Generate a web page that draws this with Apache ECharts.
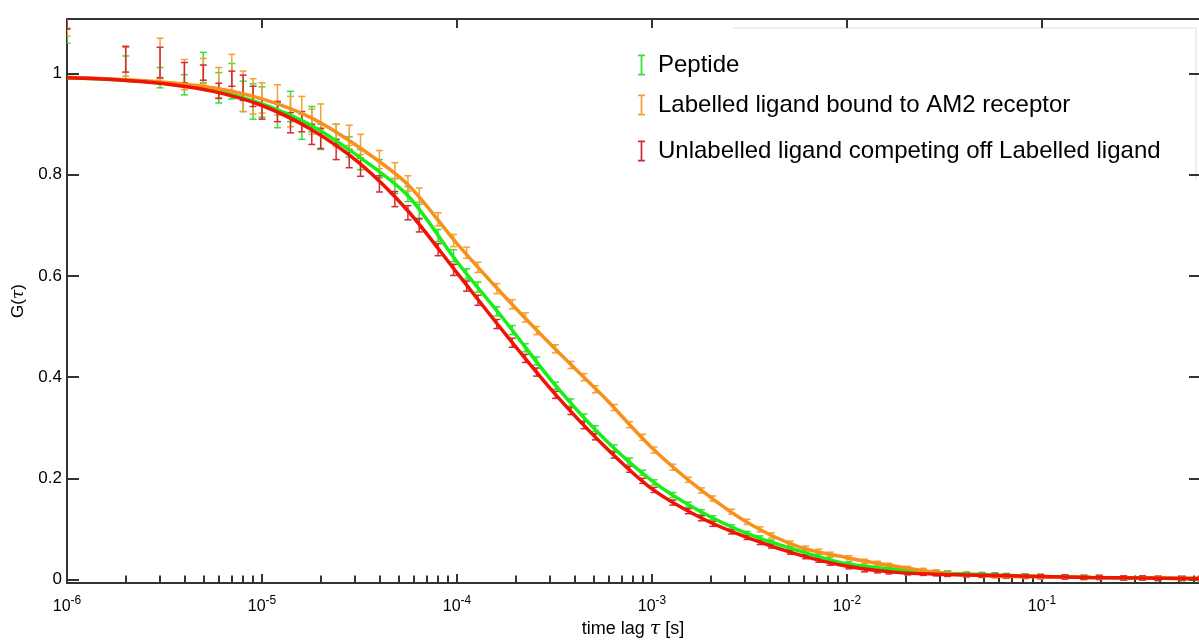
<!DOCTYPE html>
<html>
<head>
<meta charset="utf-8">
<title>FCS autocorrelation</title>
<script src="https://cdn.jsdelivr.net/npm/echarts@6/dist/echarts.min.js"></script>
<style>
  html, body { margin: 0; padding: 0; background: #fff; }
  #chart { width: 1199px; height: 644px; }
</style>
</head>
<body>
<div id="chart"></div>
<script>
// lag times of the correlator channels, in microseconds
var lagsUs = [1, 2, 3, 4, 5, 6, 7, 8, 9, 10, 12, 14, 16, 18, 20, 24, 28, 32,
  40, 48, 56, 64, 80, 96, 112, 128, 160, 192, 224, 256, 320, 384, 448, 512,
  640, 768, 896, 1024, 1280, 1536, 1792, 2048, 2560, 3072, 3584, 4096,
  5120, 6144, 7168, 8192, 10240, 12288, 14336, 16384, 20480, 24576, 28672, 32768,
  40960, 49152, 57344, 65536, 81920, 98304, 131072, 163840, 196608,
  262144, 327680, 393216, 524288, 655360];

// measured G(tau) and error (half length of the bar)
var peptide = [1.075, 1.010, 0.992, 0.978, 1.012, 0.972, 0.985, 0.955, 0.945, 0.944,
  0.918, 0.935, 0.895, 0.910, 0.875, 0.880, 0.855, 0.830,
  0.812, 0.778, 0.762, 0.728, 0.680, 0.640, 0.604, 0.578,
  0.530, 0.493, 0.458, 0.432, 0.383, 0.350, 0.320, 0.298,
  0.260, 0.234, 0.211, 0.192, 0.167, 0.148, 0.133, 0.122,
  0.104, 0.091, 0.082, 0.074, 0.062, 0.053, 0.046, 0.040,
  0.031, 0.027, 0.024, 0.021, 0.018, 0.015, 0.014, 0.013,
  0.011, 0.010, 0.009, 0.008, 0.007, 0.006, 0.005, 0.004, 0.004,
  0.003, 0.003, 0.002, 0.002, 0.002];
var peptideErr = [0.015, 0.025, 0.02, 0.02, 0.03, 0.03, 0.035, 0.03, 0.035, 0.03,
  0.025, 0.03, 0.025, 0.025, 0.025, 0.02, 0.02, 0.02,
  0.018, 0.015, 0.015, 0.014, 0.012, 0.012, 0.01, 0.01,
  0.009, 0.009, 0.008, 0.008, 0.007, 0.007, 0.007, 0.006,
  0.006, 0.006, 0.005, 0.005, 0.005, 0.005, 0.005, 0.004,
  0.004, 0.004, 0.004, 0.004, 0.004, 0.004, 0.004, 0.004,
  0.004, 0.004, 0.004, 0.004, 0.004, 0.004, 0.004, 0.004,
  0.004, 0.004, 0.004, 0.004, 0.004, 0.004, 0.004, 0.004, 0.004,
  0.004, 0.004, 0.004, 0.004, 0.004];

var labelled = [1.092, 1.025, 1.030, 0.998, 1.005, 0.982, 0.998, 0.965, 0.955, 0.952,
  0.948, 0.925, 0.930, 0.905, 0.915, 0.878, 0.878, 0.860,
  0.830, 0.808, 0.783, 0.760, 0.712, 0.670, 0.646, 0.617,
  0.575, 0.544, 0.518, 0.492, 0.456, 0.424, 0.400, 0.376,
  0.340, 0.306, 0.281, 0.256, 0.222, 0.197, 0.176, 0.160,
  0.134, 0.114, 0.099, 0.087, 0.072, 0.062, 0.056, 0.050,
  0.043, 0.036, 0.032, 0.028, 0.022, 0.018, 0.015, 0.012,
  0.010, 0.008, 0.007, 0.006, 0.006, 0.005, 0.005, 0.004, 0.004,
  0.003, 0.003, 0.003, 0.002, 0.002];
var labelledErr = [0.018, 0.03, 0.04, 0.03, 0.025, 0.03, 0.04, 0.04, 0.035, 0.03,
  0.03, 0.03, 0.025, 0.025, 0.025, 0.022, 0.02, 0.02,
  0.018, 0.016, 0.015, 0.014, 0.013, 0.012, 0.011, 0.01,
  0.01, 0.009, 0.009, 0.008, 0.008, 0.007, 0.007, 0.007,
  0.006, 0.006, 0.006, 0.006, 0.006, 0.005, 0.005, 0.005,
  0.005, 0.005, 0.005, 0.005, 0.004, 0.004, 0.004, 0.004,
  0.004, 0.004, 0.004, 0.004, 0.004, 0.004, 0.004, 0.004,
  0.004, 0.004, 0.004, 0.004, 0.004, 0.004, 0.004, 0.004, 0.004,
  0.004, 0.004, 0.004, 0.004, 0.004];

var unlabelled = [1.100, 1.028, 1.022, 1.002, 1.002, 0.966, 0.990, 0.972, 0.955, 0.930,
  0.925, 0.903, 0.905, 0.880, 0.872, 0.850, 0.832, 0.815,
  0.782, 0.752, 0.725, 0.700, 0.652, 0.612, 0.580, 0.552,
  0.505, 0.468, 0.437, 0.410, 0.365, 0.333, 0.305, 0.282,
  0.246, 0.218, 0.195, 0.177, 0.152, 0.135, 0.121, 0.110,
  0.094, 0.083, 0.073, 0.066, 0.054, 0.045, 0.038, 0.032,
  0.025, 0.019, 0.017, 0.015, 0.013, 0.012, 0.011, 0.010,
  0.009, 0.008, 0.008, 0.007, 0.006, 0.006, 0.005, 0.004, 0.004,
  0.003, 0.003, 0.002, 0.002, 0.002];
var unlabelledErr = [0.012, 0.025, 0.03, 0.02, 0.015, 0.015, 0.015, 0.025, 0.02, 0.02,
  0.02, 0.02, 0.02, 0.02, 0.02, 0.02, 0.018, 0.018,
  0.016, 0.015, 0.014, 0.013, 0.012, 0.011, 0.01, 0.01,
  0.009, 0.009, 0.008, 0.008, 0.007, 0.007, 0.007, 0.006,
  0.006, 0.006, 0.005, 0.005, 0.005, 0.005, 0.005, 0.005,
  0.004, 0.004, 0.004, 0.004, 0.004, 0.004, 0.004, 0.004,
  0.004, 0.004, 0.004, 0.004, 0.004, 0.004, 0.004, 0.004,
  0.004, 0.004, 0.004, 0.004, 0.004, 0.004, 0.004, 0.004, 0.004,
  0.004, 0.004, 0.004, 0.004, 0.004];

// fitted curves, read at quarter decades (seconds)
var fitLags = [1e-6, 1.78e-6, 3.16e-6, 5.62e-6, 1e-5, 1.78e-5, 3.16e-5, 5.62e-5,
  1e-4, 1.78e-4, 3.16e-4, 5.62e-4, 1e-3, 1.78e-3, 3.16e-3, 5.62e-3,
  1e-2, 1.78e-2, 3.16e-2, 5.62e-2, 1e-1, 1.78e-1, 3.16e-1, 5.62e-1, 0.638];
var fitPeptide = [0.992, 0.988, 0.981, 0.967, 0.940, 0.898, 0.835, 0.758,
  0.628, 0.509, 0.386, 0.280, 0.195, 0.134, 0.089, 0.057,
  0.031, 0.020, 0.013, 0.009, 0.006, 0.004, 0.003, 0.002, 0.002];
var fitLabelled = [0.993, 0.989, 0.983, 0.972, 0.950, 0.913, 0.854, 0.780,
  0.664, 0.557, 0.457, 0.362, 0.260, 0.177, 0.110, 0.065,
  0.043, 0.026, 0.012, 0.007, 0.005, 0.004, 0.003, 0.002, 0.002];
var fitUnlabelled = [0.992, 0.988, 0.980, 0.965, 0.937, 0.890, 0.823, 0.728,
  0.606, 0.484, 0.368, 0.266, 0.179, 0.122, 0.081, 0.049,
  0.026, 0.014, 0.010, 0.008, 0.006, 0.004, 0.003, 0.002, 0.002];

// axis ticks
var decades = [1e-6, 1e-5, 1e-4, 1e-3, 1e-2, 1e-1];
var mantissas = [2, 3, 4, 5, 6, 7, 8, 9];
var yTicks = [0, 0.2, 0.4, 0.6, 0.8, 1];

var names = ['Peptide', 'Labelled ligand bound to AM2 receptor', 'Unlabelled ligand competing off Labelled ligand'];

var minorTicks = [];
decades.forEach(function (d) {
  mantissas.forEach(function (m) {
    if (m * d < 0.638) minorTicks.push(m * d);
  });
});

function points(vals, errs) {
  return lagsUs.map(function (t, i) { return [t * 1e-6, vals[i], errs[i]]; });
}
function fitPoints(vals) {
  return fitLags.map(function (t, i) { return [t, vals[i]]; });
}

function errorBars(color) {
  return function (params, api) {
    var x = api.value(0), y = api.value(1), e = api.value(2);
    var top = api.coord([x, y + e]);
    var bot = api.coord([x, y - e]);
    var hw = 3.5;
    var style = { stroke: color, lineWidth: 1.5, fill: null };
    return {
      type: 'group',
      children: [
        { type: 'line', shape: { x1: top[0], y1: top[1], x2: bot[0], y2: bot[1] }, style: style },
        { type: 'line', shape: { x1: top[0] - hw, y1: top[1], x2: top[0] + hw, y2: top[1] }, style: style },
        { type: 'line', shape: { x1: bot[0] - hw, y1: bot[1], x2: bot[0] + hw, y2: bot[1] }, style: style }
      ]
    };
  };
}

var font = "'Liberation Sans', Arial, sans-serif";
var ibeam = 'path://M0,0H8V2H5V22H8V24H0V22H3V2H0Z';
var barColors = ['#3ddc3d', '#f3a035', '#d42a35'];
var lineColors = ['#18ee18', '#f8901c', '#f01405'];

function legendItem(i, top) {
  return {
    data: [{ name: names[i], icon: ibeam, itemStyle: { color: barColors[i] } }],
    left: 633, top: top, orient: 'vertical',
    itemWidth: 7, itemHeight: 24, selectedMode: false,
    textStyle: { fontSize: 24, color: '#000', fontFamily: font, padding: [0, 0, 0, 8] }
  };
}

var chart = echarts.init(document.getElementById('chart'));
chart.setOption({
  animation: false,
  backgroundColor: '#fff',
  textStyle: { fontFamily: font },
  grid: { left: 67, right: 0, top: 19, bottom: 58.5 },
  legend: [legendItem(0, 48), legendItem(1, 88), legendItem(2, 134)],
  graphic: [{
    type: 'polyline', silent: true,
    shape: { points: [[733, 28], [1196, 28], [1196, 180]] },
    style: { stroke: '#dcdcdc', lineWidth: 1, fill: null }
  }],
  xAxis: [{
    type: 'log', min: 1e-6, max: 0.638, position: 'bottom',
    name: 'time lag {t|τ} [s]', nameLocation: 'middle', nameGap: 37,
    nameTextStyle: { fontSize: 18, color: '#000', fontFamily: font,
      rich: { t: { fontSize: 19, fontStyle: 'italic', fontFamily: 'DejaVu Serif', color: '#000' } } },
    axisLine: { onZero: false, lineStyle: { color: '#333', width: 2 } },
    axisTick: { inside: true, length: 9, customValues: decades, lineStyle: { color: '#333', width: 2 } },
    axisLabel: {
      customValues: decades, margin: 12, color: '#000',
      formatter: function (v) { return '{b|10}{s|' + Math.round(Math.log10(v)) + '}'; },
      rich: {
        b: { fontSize: 16, fontFamily: font, color: '#000', lineHeight: 20, verticalAlign: 'bottom' },
        s: { fontSize: 12, fontFamily: font, color: '#000', lineHeight: 20, verticalAlign: 'top' }
      }
    },
    splitLine: { show: false }
  }, {
    type: 'log', min: 1e-6, max: 0.638, position: 'bottom',
    axisLine: { show: false },
    axisTick: { inside: true, length: 4, customValues: minorTicks, lineStyle: { color: '#333', width: 2 } },
    axisLabel: { show: false }, splitLine: { show: false }
  }, {
    type: 'log', min: 1e-6, max: 0.638, position: 'top',
    axisLine: { onZero: false, lineStyle: { color: '#333', width: 2 } },
    axisTick: { inside: true, length: 9, customValues: decades, lineStyle: { color: '#333', width: 2 } },
    axisLabel: { show: false }, splitLine: { show: false }
  }, {
    type: 'log', min: 1e-6, max: 0.638, position: 'top',
    axisLine: { show: false },
    axisTick: { inside: true, length: 4, customValues: minorTicks, lineStyle: { color: '#333', width: 2 } },
    axisLabel: { show: false }, splitLine: { show: false }
  }],
  yAxis: [{
    type: 'value', min: -0.007, max: 1.108, position: 'left',
    name: 'G({t|τ})', nameLocation: 'middle', nameGap: 40,
    nameTextStyle: { fontSize: 17, color: '#000', fontFamily: font,
      rich: { t: { fontSize: 17, fontStyle: 'italic', fontFamily: 'DejaVu Serif', color: '#000' } } },
    axisLine: { show: true, onZero: false, lineStyle: { color: '#333', width: 2 } },
    axisTick: { show: true, inside: true, length: 12, customValues: yTicks, lineStyle: { color: '#333', width: 2 } },
    axisLabel: { customValues: yTicks, margin: 5, fontSize: 17, color: '#000', fontFamily: font },
    splitLine: { show: false }
  }, {
    type: 'value', min: -0.007, max: 1.108, position: 'right',
    axisLine: { show: false },
    axisTick: { show: true, inside: true, length: 10, customValues: yTicks, lineStyle: { color: '#333', width: 2 } },
    axisLabel: { show: false }, splitLine: { show: false }
  }],
  series: [
    { name: names[0], type: 'custom', renderItem: errorBars(barColors[0]), data: points(peptide, peptideErr),
      itemStyle: { color: barColors[0] }, encode: { x: 0, y: 1 }, clip: true, z: 2 },
    { name: names[1], type: 'custom', renderItem: errorBars(barColors[1]), data: points(labelled, labelledErr),
      itemStyle: { color: barColors[1] }, encode: { x: 0, y: 1 }, clip: true, z: 2 },
    { name: names[2], type: 'custom', renderItem: errorBars(barColors[2]), data: points(unlabelled, unlabelledErr),
      itemStyle: { color: barColors[2] }, encode: { x: 0, y: 1 }, clip: true, z: 2 },
    { name: 'Peptide fit', type: 'line', data: fitPoints(fitPeptide), smooth: 0.3, symbol: 'none',
      lineStyle: { color: lineColors[0], width: 3.5 }, z: 3 },
    { name: 'Labelled fit', type: 'line', data: fitPoints(fitLabelled), smooth: 0.3, symbol: 'none',
      lineStyle: { color: lineColors[1], width: 3.5 }, z: 3 },
    { name: 'Unlabelled fit', type: 'line', data: fitPoints(fitUnlabelled), smooth: 0.3, symbol: 'none',
      lineStyle: { color: lineColors[2], width: 3.5 }, z: 3 }
  ]
});
</script>
</body>
</html>
